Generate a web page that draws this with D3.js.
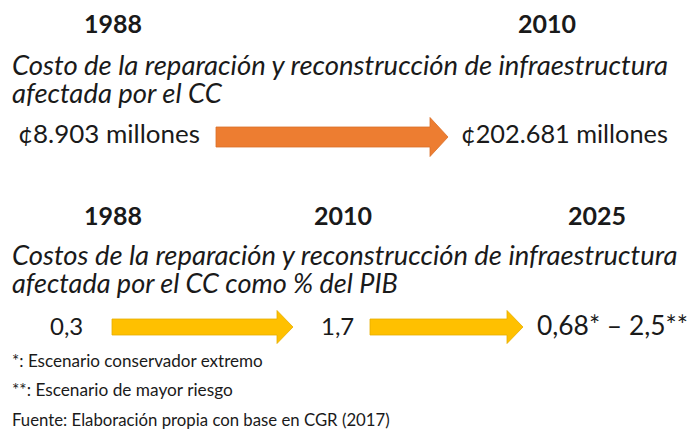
<!DOCTYPE html>
<html><head><meta charset="utf-8">
<script src="https://cdn.jsdelivr.net/npm/d3@7"></script>
<style>
html,body{margin:0;padding:0;background:#fff;}
svg{display:block;}
</style></head>
<body><svg id="chart" width="690" height="430"></svg>
<script>
// ---- data ----
const yearsTop = ["1988", "2010"];
const valuesTop = ["¢8.903 millones", "¢202.681 millones"];
const titleTop = ["Costo de la reparación y reconstrucción de infraestructura", "afectada por el CC"];
const yearsBottom = ["1988", "2010", "2025"];
const valuesBottom = ["0,3", "1,7", "0,68* – 2,5**"];
const titleBottom = ["Costos de la reparación y reconstrucción de infraestructura", "afectada por el CC como % del PIB"];
const notes = ["*: Escenario conservador extremo", "**: Escenario de mayor riesgo", "Fuente: Elaboración propia con base en CGR (2017)"];

// ---- layout ----
const FONT = "Lato, 'Open Sans', sans-serif";
const svg = d3.select("#chart");
const ink = "#1a1a1a";

function fitText(sel, w) {
  const base = parseFloat(sel.attr("font-size"));
  const cur = sel.node().getComputedTextLength();
  sel.attr("font-size", base * w / cur);
  return sel;
}
function txt(s, x, y, size, opts = {}) {
  const t = svg.append("text").text(s).attr("x", x).attr("y", y)
    .attr("font-family", FONT).attr("font-size", size).attr("fill", ink)
    .attr("font-weight", opts.bold ? 700 : 400)
    .attr("font-style", opts.italic ? "italic" : "normal")
    .attr("text-anchor", opts.anchor || "start");
  if (opts.width) fitText(t, opts.width);
  return t;
}

// column centres for years
const topCols = d3.scaleOrdinal().domain(yearsTop).range([113, 547]);
const botCols = d3.scaleOrdinal().domain(yearsBottom).range([113, 343, 597]);

yearsTop.forEach(y => txt(y, topCols(y), 33, 25, {bold: true, anchor: "middle"}));
titleTop.forEach((s, i) => txt(s, 12, [75, 103][i], 24, {italic: true, width: [656, 210][i]}));

// top values
const topValX = [[18, 182], [461, 207]];
valuesTop.forEach((s, i) => txt(s, topValX[i][0], 143, 22, {width: topValX[i][1]}));

yearsBottom.forEach(y => txt(y, botCols(y), 225, 25, {bold: true, anchor: "middle"}));
titleBottom.forEach((s, i) => txt(s, 12, [265, 293][i], 24, {italic: true, width: [666, 386][i]}));

const botValX = [50, 321, 537];
valuesBottom.forEach((s, i) => txt(s, botValX[i], 335, 24, i === 2 ? {width: 151} : {}));

notes.forEach((s, i) => txt(s, 12, [367, 396, 426][i], 14, {width: [251, 221, 378][i]}));

// ---- arrows ----
function arrow(x0, x1, cy, hs, hh, hl, fill, stroke) {
  const xh = x1 - hl;
  const pts = [[x0, cy - hs], [xh, cy - hs], [xh, cy - hh], [x1, cy], [xh, cy + hh], [xh, cy + hs], [x0, cy + hs]];
  svg.append("path").attr("d", d3.line()(pts) + "Z")
    .attr("fill", fill).attr("stroke", stroke).attr("stroke-width", 0.8);
}
const orange = "#ED7D31", yellow = "#FFC000";
arrow(216, 448, 137, 10, 19.5, 18, orange, "#d9702a");
arrow(112, 293, 327, 8, 16.5, 16, yellow, "#e6ad00");
arrow(370, 523, 327, 8, 16.5, 16, yellow, "#e6ad00");
</script></body></html>
